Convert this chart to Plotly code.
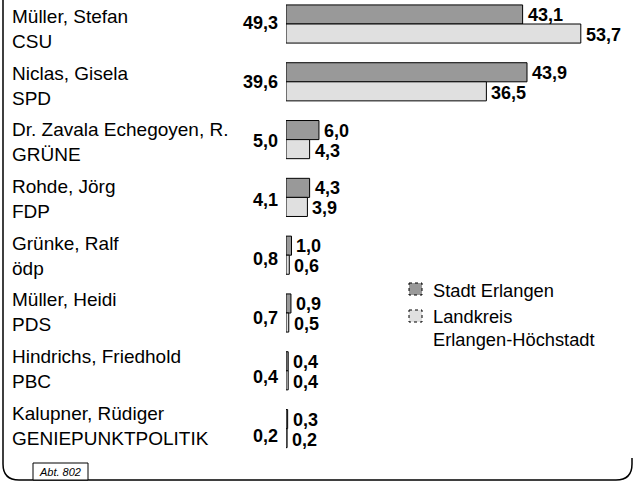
import plotly.graph_objects as go

names = ["Müller, Stefan", "Niclas, Gisela", "Dr. Zavala Echegoyen, R.", "Rohde, Jörg",
         "Grünke, Ralf", "Müller, Heidi", "Hindrichs, Friedhold", "Kalupner, Rüdiger"]
parties = ["CSU", "SPD", "GRÜNE", "FDP", "ödp", "PDS", "PBC", "GENIEPUNKTPOLITIK"]
total = [49.3, 39.6, 5.0, 4.1, 0.8, 0.7, 0.4, 0.2]
stadt = [43.1, 43.9, 6.0, 4.3, 1.0, 0.9, 0.4, 0.3]
landkreis = [53.7, 36.5, 4.3, 3.9, 0.6, 0.5, 0.4, 0.2]
series_names = ["Stadt Erlangen", "Landkreis<br>Erlangen-Höchstadt"]

W, H = 635, 482
ML = 286
PW = W - ML
PX_PER_UNIT = 5.49
STEP = 57.8
C0 = 24

FONT = "Liberation Sans, Arial, sans-serif"
DARK = "#999999"
LIGHT = "#e0e0e0"

def fmt(v):
    return f"{v:.1f}".replace(".", ",")

def px(x):
    return (x - ML) / PW

def py(y):
    return 1 - y / H

cats = [n + "|" + p for n, p in zip(names, parties)]

fig = go.Figure()
for vals, col, nm in [(stadt, DARK, series_names[0]), (landkreis, LIGHT, series_names[1])]:
    fig.add_trace(go.Bar(
        y=cats, x=vals, orientation="h", name=nm,
        marker=dict(color=col, line=dict(color="black", width=1)),
        showlegend=False, cliponaxis=False,
    ))

annotations = []
n = len(cats)
for k, (c, nm, pt, t, s, l) in enumerate(zip(cats, names, parties, total, stadt, landkreis)):
    annotations.append(dict(
        x=px(10), xref="paper", y=c, yref="y", xanchor="left", yanchor="middle",
        text=nm + "<br>" + pt, align="left", showarrow=False,
        yshift=-5 + 8 * k / (n - 1),
        font=dict(family=FONT, size=19, color="black")))
    annotations.append(dict(
        x=0, xref="x", y=c, yref="y", xanchor="right", yanchor="middle",
        text="<b>" + fmt(t) + "</b>", showarrow=False, xshift=-6,
        yshift=1 - 8 * k / (n - 1),
        font=dict(family=FONT, size=18, color="black")))
    for v, ys in ((s, 9), (l, -11)):
        annotations.append(dict(
            x=v, xref="x", y=c, yref="y", xanchor="left", yanchor="middle",
            text="<b>" + fmt(v) + "</b>", showarrow=False, xshift=4, yshift=ys,
            borderpad=0,
            font=dict(family=FONT, size=18, color="black")))

# legend
shapes = []
leg = [(DARK, 289, [(series_names[0], 290)]),
       (LIGHT, 316, [("Landkreis", 316), ("Erlangen-Höchstadt", 339)])]
for col, my, lines in leg:
    shapes.append(dict(type="rect", xref="paper", yref="paper",
                       x0=px(409), x1=px(422), y0=py(my - 6), y1=py(my + 6),
                       fillcolor=col, line=dict(color="black", width=1, dash="dot")))
    for txt, ty in lines:
        annotations.append(dict(x=px(431), xref="paper", y=py(ty), yref="paper",
                                xanchor="left", yanchor="middle", text=txt, showarrow=False,
                                font=dict(family=FONT, size=18.3, color="black")))

# frame
r = 16
path = (f"M {px(3)},{py(0)} L {px(3)},{py(480 - r)} "
        f"Q {px(3)},{py(480)} {px(3 + r)},{py(480)} "
        f"L {px(632 - r)},{py(480)} Q {px(632)},{py(480)} {px(632)},{py(480 - r)} "
        f"L {px(632)},{py(458)}")
shapes.append(dict(type="path", xref="paper", yref="paper", path=path,
                   line=dict(color="black", width=1.5)))
# Abt. box
shapes.append(dict(type="rect", xref="paper", yref="paper",
                   x0=px(33), x1=px(88), y0=py(463), y1=py(480),
                   line=dict(color="black", width=1), fillcolor="white"))
annotations.append(dict(x=px(60.5), xref="paper", y=py(471.5), yref="paper",
                        xanchor="center", yanchor="middle", text="<i>Abt. 802</i>",
                        showarrow=False, font=dict(family=FONT, size=11, color="black")))

rng_top = -C0 / STEP
rng_bot = rng_top + H / STEP
fig.update_layout(
    width=W, height=H, margin=dict(l=ML, r=0, t=0, b=0),
    paper_bgcolor="white", plot_bgcolor="white",
    barmode="group", bargap=0.34, bargroupgap=0,
    xaxis=dict(range=[0, PW / PX_PER_UNIT], visible=False),
    yaxis=dict(range=[rng_bot, rng_top], visible=False, type="category"),
    annotations=annotations, shapes=shapes, showlegend=False,
)
fig.write_html("out.html", config={"displayModeBar": False},
               post_script="document.body.style.margin='0';document.body.style.overflow='hidden';")
